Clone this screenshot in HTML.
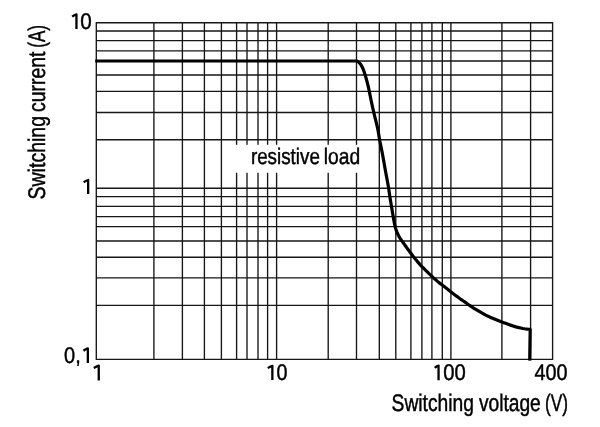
<!DOCTYPE html>
<html><head><meta charset="utf-8"><style>
html,body{margin:0;padding:0;background:#fff;}
body{width:600px;height:427px;overflow:hidden;}
svg{display:block;}
text{font-family:"Liberation Sans",sans-serif;fill:#000;stroke:#000;stroke-width:0.45px;text-rendering:geometricPrecision;}
svg{will-change:transform;}
</style></head><body>
<svg width="600" height="427" viewBox="0 0 600 427">
<rect width="600" height="427" fill="#fff"/>
<path d="M95.62 22.70H553.27M95.62 31.00H553.27M95.62 40.60H553.27M95.62 50.80H553.27M95.62 61.00H553.27M95.62 75.00H553.27M95.62 91.40H553.27M95.62 112.50H553.27M95.62 139.70H553.27M95.62 188.20H553.27M95.62 196.60H553.27M95.62 206.40H553.27M95.62 216.60H553.27M95.62 226.60H553.27M95.62 241.00H553.27M95.62 257.20H553.27M95.62 277.90H553.27M95.62 305.30H553.27M95.62 359.30H553.27M96.30 22.02V359.98M153.90 22.02V359.98M182.40 22.02V359.98M204.40 22.02V359.98M221.40 22.02V359.98M236.60 22.02V359.98M247.00 22.02V359.98M258.00 22.02V359.98M267.60 22.02V359.98M276.60 22.02V359.98M328.20 22.02V359.98M356.50 22.02V359.98M379.30 22.02V359.98M395.80 22.02V359.98M410.90 22.02V359.98M421.90 22.02V359.98M431.90 22.02V359.98M442.30 22.02V359.98M450.90 22.02V359.98M501.90 22.02V359.98M530.60 22.02V359.98M552.60 22.02V359.98" stroke="#161616" stroke-width="1.35" fill="none"/>
<rect x="229" y="144.8" width="138" height="28" fill="#fff"/>
<path d="M95.20 61.00 L357.00 61.00 358.60 62.05 359.95 63.41 361.08 65.02 362.05 66.76 362.91 68.56 363.64 70.41 364.29 72.30 364.91 74.20 365.49 76.12 366.06 78.03 366.60 79.96 367.12 81.89 367.60 83.83 368.07 85.78 368.52 87.72 368.94 89.68 369.35 91.64 369.74 93.60 370.13 95.56 370.52 97.52 370.92 99.48 371.32 101.44 371.74 103.39 372.17 105.35 372.61 107.30 373.04 109.25 373.49 111.20 373.94 113.15 374.42 115.09 374.90 117.03 375.38 118.97 375.86 120.92 376.33 122.86 376.80 124.80 377.26 126.75 377.70 128.70 378.10 130.66 378.44 132.63 378.74 134.60 379.04 136.58 379.35 138.56 379.70 140.52 380.10 142.48 380.51 144.44 380.93 146.40 381.34 148.35 381.74 150.31 382.13 152.28 382.50 154.24 382.87 156.21 383.23 158.17 383.58 160.14 383.91 162.11 384.25 164.09 384.59 166.06 384.93 168.03 385.29 170.00 385.66 171.96 386.03 173.93 386.40 175.89 386.77 177.86 387.14 179.82 387.49 181.79 387.85 183.76 388.20 185.73 388.54 187.70 388.86 189.67 389.15 191.65 389.43 193.63 389.72 195.61 390.01 197.59 390.32 199.57 390.65 201.54 390.99 203.51 391.33 205.48 391.68 207.45 392.01 209.42 392.33 211.39 392.65 213.37 392.96 215.34 393.29 217.32 393.64 219.29 394.00 221.25 394.38 223.22 394.79 225.17 395.27 227.11 395.82 229.03 396.44 230.93 397.17 232.78 398.01 234.59 398.94 236.36 399.95 238.08 401.06 239.73 402.22 241.36 403.39 242.98 404.56 244.61 405.72 246.24 406.88 247.86 408.05 249.49 409.24 251.09 410.44 252.69 411.65 254.29 412.86 255.88 414.08 257.47 415.31 259.04 416.59 260.57 417.90 262.09 419.21 263.60 420.54 265.09 421.91 266.55 423.31 267.97 424.74 269.37 426.16 270.78 427.59 272.18 429.02 273.58 430.45 274.98 431.89 276.36 433.35 277.72 434.85 279.05 436.36 280.36 437.89 281.65 439.45 282.90 441.03 284.12 442.62 285.33 444.21 286.54 445.78 287.78 447.34 289.04 448.89 290.30 450.44 291.56 452.02 292.79 453.61 294.00 455.21 295.20 456.82 296.39 458.43 297.57 460.06 298.73 461.70 299.88 463.34 301.02 464.99 302.16 466.63 303.30 468.27 304.44 469.91 305.58 471.56 306.71 473.23 307.81 474.93 308.86 476.64 309.90 478.36 310.92 480.08 311.94 481.81 312.95 483.54 313.95 485.29 314.92 487.07 315.82 488.89 316.64 490.73 317.43 492.57 318.21 494.42 318.98 496.27 319.73 498.13 320.47 499.98 321.21 501.85 321.94 503.72 322.65 505.59 323.35 507.47 324.04 509.35 324.71 511.24 325.37 513.13 326.01 515.03 326.63 516.96 327.17 518.90 327.63 520.85 328.06 522.81 328.46 524.78 328.78 526.72 329.04 528.48 329.24 529.90 329.40 529.90 329.40 L530.2 329.4 L529.7 360.6" stroke="#000" stroke-width="3.2" fill="none" stroke-linejoin="round"/>
<text id="r1" transform="translate(250.88 164.22) scale(0.8359 1)" font-size="22.50">resistive</text><text id="r2" transform="translate(323.70 164.22) scale(0.8552 1)" font-size="22.50">load</text><text id="xt1" transform="translate(391.53 410.62) scale(0.8031 1)" font-size="24.00">Switching</text><text id="xt2" transform="translate(478.92 410.62) scale(0.7994 1)" font-size="24.00">voltage</text><text id="xt3" transform="translate(544.94 410.62) scale(0.7212 1)" font-size="24.00">(V)</text><text id="yt1" transform="translate(45.02 199.49) rotate(-90) scale(0.8132 1)" font-size="24.00">Switching</text><text id="yt2" transform="translate(45.02 112.04) rotate(-90) scale(0.8089 1)" font-size="24.00">current</text><text id="yt3" transform="translate(45.02 47.81) rotate(-90) scale(0.7125 1)" font-size="24.00">(A)</text><text id="y10" transform="translate(80.32 28.63) scale(0.9126 1)" font-size="22.60">0</text><text id="y01" transform="translate(64.08 363.11) scale(0.8846 1)" font-size="22.60">0,</text><text id="x10" transform="translate(276.57 380.45) scale(0.8717 1)" font-size="22.60">0</text><text id="x100" transform="translate(443.13 379.94) scale(0.8961 1)" font-size="22.60">00</text><text id="x400" transform="translate(534.41 379.92) scale(0.8742 1)" font-size="22.60">400</text><path d="M76.45 28.95V14.40Q74.25 15.10 72.15 16.70M88.15 194.10V180.00Q85.95 180.70 83.70 182.30M87.85 363.00V348.40Q85.65 349.10 83.40 350.70M98.75 380.50V365.70Q96.55 366.40 93.80 368.00M272.35 380.00V365.80Q270.15 366.50 267.80 368.10M438.55 380.20V365.60Q436.35 366.30 434.80 367.90" stroke="#000" stroke-width="2.3" fill="none" stroke-linejoin="round"/>
</svg>
</body></html>
